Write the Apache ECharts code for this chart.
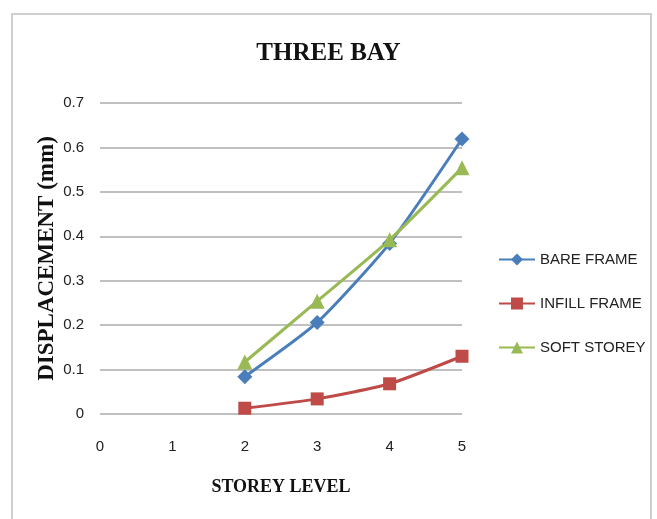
<!DOCTYPE html>
<html>
<head>
<meta charset="utf-8">
<script src="https://cdn.jsdelivr.net/npm/echarts@6/dist/echarts.min.js"></script>
<style>
  html, body { margin: 0; padding: 0; background: #fff; }
  #chart { width: 657px; height: 519px; }
</style>
</head>
<body>
<div id="chart"></div>
<script>
// storey levels and displacement values
const storeys = [2, 3, 4, 5];
const bareFrame = [0.084, 0.206, 0.384, 0.619];
const infillFrame = [0.013, 0.034, 0.068, 0.130];
const softStorey = [0.117, 0.254, 0.392, 0.554];
const xTicks = [0, 1, 2, 3, 4, 5];

const toPoints = (vals) => storeys.map((s, i) => [s, vals[i]]);

const chart = echarts.init(document.getElementById('chart'));

chart.setOption({
  animation: false,
  title: {
    text: 'THREE BAY',
    left: 'center',
    top: 36,
    textStyle: {
      fontFamily: 'Liberation Serif',
      fontWeight: 'bold',
      fontSize: 25,
      color: '#111'
    }
  },
  graphic: [{
    type: 'rect',
    shape: { x: 12, y: 14, width: 639, height: 520 },
    style: { fill: 'none', stroke: '#cfcfcf', lineWidth: 2 },
    silent: true
  }],
  legend: {
    orient: 'vertical',
    left: 493,
    top: 247,
    itemGap: 29,
    itemWidth: 36,
    itemHeight: 15,
    textStyle: {
      fontFamily: 'Liberation Sans Narrow, Liberation Sans',
      fontSize: 15,
      color: '#222'
    }
  },
  grid: { left: 100, right: 195, top: 103, bottom: 105 },
  xAxis: {
    type: 'value',
    min: 0,
    max: 5,
    interval: 1,
    name: 'STOREY LEVEL',
    nameLocation: 'middle',
    nameGap: 64,
    nameTextStyle: {
      fontFamily: 'Liberation Serif',
      fontWeight: 'bold',
      fontSize: 18,
      color: '#111'
    },
    axisLine: { show: false },
    axisTick: { show: false },
    splitLine: { show: false },
    axisLabel: {
      margin: 25,
      fontFamily: 'Liberation Sans Narrow, Liberation Sans',
      fontSize: 15,
      color: '#222',
      formatter: (v) => xTicks.includes(v) ? String(v) : ''
    }
  },
  yAxis: {
    type: 'value',
    min: 0,
    max: 0.7,
    interval: 0.1,
    name: 'DISPLACEMENT (mm)',
    nameLocation: 'middle',
    nameGap: 41,
    nameMoveOverlap: false,
    nameRotate: 90,
    nameTextStyle: {
      fontFamily: 'Liberation Serif',
      fontWeight: 'bold',
      fontSize: 23,
      color: '#111'
    },
    axisLine: { show: false },
    axisTick: { show: false },
    splitLine: { lineStyle: { color: '#c0c0c0', width: 2 } },
    axisLabel: {
      margin: 16,
      fontFamily: 'Liberation Sans Narrow, Liberation Sans',
      fontSize: 15,
      color: '#222',
      formatter: (v) => String(Math.round(v * 10) / 10)
    }
  },
  series: [
    {
      name: 'BARE FRAME',
      type: 'line',
      data: toPoints(bareFrame),
      smooth: 0.2,
      symbol: 'diamond',
      symbolSize: 15,
      itemStyle: { color: '#4a7ebb' },
      lineStyle: { width: 3 }
    },
    {
      name: 'INFILL FRAME',
      type: 'line',
      data: toPoints(infillFrame),
      smooth: 0.2,
      symbol: 'rect',
      symbolSize: 13,
      itemStyle: { color: '#be4b48' },
      lineStyle: { width: 3 }
    },
    {
      name: 'SOFT STOREY',
      type: 'line',
      data: toPoints(softStorey),
      smooth: 0.2,
      symbol: 'triangle',
      symbolSize: 15,
      itemStyle: { color: '#98b954' },
      lineStyle: { width: 3 }
    }
  ]
});

window.onresize = function () {
  chart.resize();
};
</script>
</body>
</html>
